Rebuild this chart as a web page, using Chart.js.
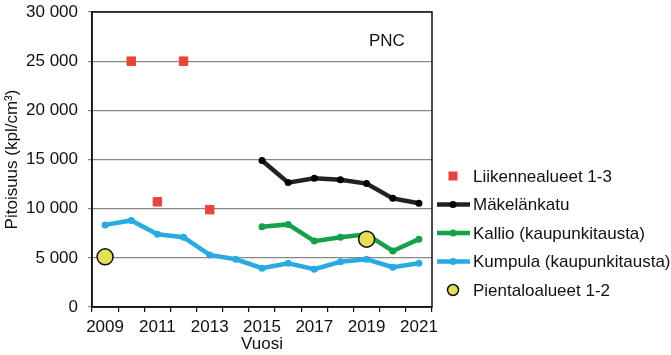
<!DOCTYPE html>
<html><head><meta charset="utf-8">
<script src="https://cdn.jsdelivr.net/npm/chart.js@4"></script>
<style>html,body{margin:0;padding:0;background:#fff}#w{width:671px;height:355px}</style>
</head><body><div id="w"><canvas id="c"></canvas></div>
<script>
const years = ['2009','2010','2011','2012','2013','2014','2015','2016','2017','2018','2019','2020','2021'];
const liikennealueet = [null,25000,10700,25000,9900,null,null,null,null,null,null,null,null];
const makelankatu = [null,null,null,null,null,null,14900,12650,13100,12950,12550,11050,10550];
const kallio = [null,null,null,null,null,null,8150,8400,6700,7100,7400,5700,6900];
const kumpula = [8350,8800,7400,7100,5300,4850,3950,4450,3850,4600,4850,4050,4450];
const pientalo = [5100,null,null,null,null,null,null,null,null,null,6900,null,null];
const yTicks = [0,5000,10000,15000,20000,25000,30000];
const seriesNames = ['Liikennealueet 1-3','Mäkelänkatu','Kallio (kaupunkitausta)','Kumpula (kaupunkitausta)','Pientaloalueet 1-2'];

const FONT = "'Liberation Sans', Arial, sans-serif";
const fmt = v => String(v).replace(/\B(?=(\d{3})+(?!\d))/g, ' ');

const legendPlugin = {
  id: 'customLegend',
  afterDraw(chart) {
    const ctx = chart.ctx;
    const ys = [176, 204.5, 233, 261.5, 290];
    const xm = 453;
    ctx.save();
    ctx.font = '17px ' + FONT;
    ctx.fillStyle = '#111';
    ctx.textBaseline = 'middle';
    chart.data.datasets.forEach((ds, i) => {
      const y = ys[i];
      if (ds.showLine) {
        ctx.strokeStyle = ds.borderColor; ctx.lineWidth = 4.5;
        ctx.beginPath(); ctx.moveTo(437, y); ctx.lineTo(470, y); ctx.stroke();
        ctx.fillStyle = ds.pointBackgroundColor;
        ctx.beginPath(); ctx.arc(xm, y, 3.5, 0, Math.PI*2); ctx.fill();
      } else if (ds.pointStyle === 'rect') {
        ctx.fillStyle = ds.pointBackgroundColor;
        ctx.fillRect(xm-4.5, y-4.5, 9, 9);
      } else {
        ctx.fillStyle = ds.pointBackgroundColor; ctx.strokeStyle = '#111'; ctx.lineWidth = 1.5;
        ctx.beginPath(); ctx.arc(xm, y, 5.5, 0, Math.PI*2); ctx.fill(); ctx.stroke();
      }
      ctx.fillStyle = '#111';
      ctx.textAlign = 'left';
      ctx.fillText(seriesNames[i], 473, y+1);
    });
    ctx.fillText('PNC', 369, 41);
    const a = chart.chartArea;
    ctx.strokeStyle = '#111'; ctx.lineWidth = 1.5;
    ctx.strokeRect(a.left, a.top, a.right - a.left, a.bottom - a.top);
    ctx.restore();
  }
};

new Chart(document.getElementById('c'), {
  type: 'line',
  data: {
    labels: years,
    datasets: [
      { label: seriesNames[0], data: liikennealueet, showLine: false, pointStyle: 'rect', pointRadius: 6,
        pointBackgroundColor: '#E8453A', pointBorderColor: '#E8453A', borderColor: '#E8453A', order: 1 },
      { label: seriesNames[1], data: makelankatu, showLine: true, borderColor: '#222', borderWidth: 4.5,
        pointRadius: 3.5, pointBackgroundColor: '#000', pointBorderWidth: 0, order: 2, tension: 0 },
      { label: seriesNames[2], data: kallio, showLine: true, borderColor: '#17A04A', borderWidth: 4.5,
        pointRadius: 3.5, pointBackgroundColor: '#17A04A', pointBorderWidth: 0, order: 3, tension: 0 },
      { label: seriesNames[3], data: kumpula, showLine: true, borderColor: '#29ABE2', borderWidth: 4.5,
        pointRadius: 3.5, pointBackgroundColor: '#29ABE2', pointBorderWidth: 0, order: 4, tension: 0 },
      { label: seriesNames[4], data: pientalo, showLine: false, pointStyle: 'circle', pointRadius: 8,
        pointBackgroundColor: '#E2E05A', pointBorderColor: '#111', pointBorderWidth: 1.5, borderColor: '#111', order: 0 }
    ]
  },
  options: {
    responsive: true, maintainAspectRatio: false, animation: false,
    spanGaps: false,
    layout: { padding: { top: 12, right: 239, left: 2, bottom: 0 } },
    plugins: { legend: { display: false }, tooltip: { enabled: false } },
    scales: {
      x: {
        type: 'category', offset: true,
        grid: { offset: true, drawOnChartArea: false, drawTicks: true, tickLength: 5, color: '#111', lineWidth: 1.2 },
        border: { color: '#111', width: 1.5 },
        ticks: { autoSkip: false, maxRotation: 0, padding: 5, color: '#111', font: { family: FONT, size: 17 },
          callback: function(v, i) { return i % 2 === 0 ? years[i] : ''; } },
        title: { display: true, text: 'Vuosi', color: '#111', font: { family: FONT, size: 17 }, padding: { top: -6, bottom: 0 } },
        afterFit: s => { s.height = 48; s.paddingLeft = 0; s.paddingRight = 0; }
      },
      y: {
        min: 0, max: 30000,
        afterBuildTicks: s => { s.ticks = yTicks.map(v => ({ value: v })); },
        grid: { color: '#888', lineWidth: 1.2, tickLength: 4 },
        border: { color: '#111', width: 1.5 },
        ticks: { padding: 10, color: '#111', font: { family: FONT, size: 17 }, callback: v => fmt(v) },
        title: { display: true, text: 'Pitoisuus (kpl/cm³)', color: '#111', font: { family: FONT, size: 17 }, padding: { top: 0, bottom: 0 } },
        afterFit: s => { s.width = 90; s.paddingTop = 0; s.paddingBottom = 0; }
      }
    }
  },
  plugins: [legendPlugin]
});
</script>
</body></html>
